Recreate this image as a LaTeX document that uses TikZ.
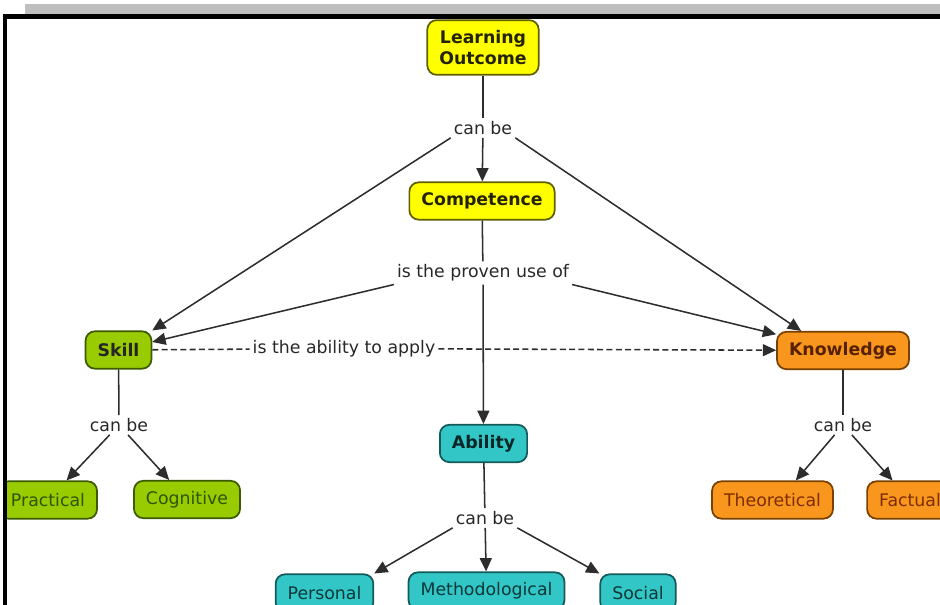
\documentclass[tikz,border=0pt]{standalone}
\usepackage{fontspec}
\setmainfont{DejaVu Sans}
\usetikzlibrary{arrows.meta}

\definecolor{cmGrey}{RGB}{190,190,190}
\definecolor{cmLine}{RGB}{45,45,45}
\definecolor{cmPhrase}{RGB}{40,40,40}
\definecolor{cmYellow}{RGB}{255,255,0}
\definecolor{cmYellowLine}{RGB}{95,95,0}
\definecolor{cmYellowText}{RGB}{35,35,0}
\definecolor{cmGreen}{RGB}{153,204,0}
\definecolor{cmGreenLine}{RGB}{60,90,0}
\definecolor{cmGreenText}{RGB}{45,85,0}
\definecolor{cmOrange}{RGB}{248,150,30}
\definecolor{cmOrangeLine}{RGB}{120,65,0}
\definecolor{cmOrangeText}{RGB}{125,45,0}
\definecolor{cmTeal}{RGB}{51,198,198}
\definecolor{cmTealLine}{RGB}{20,90,90}
\definecolor{cmTealText}{RGB}{10,55,55}

\tikzset{every picture/.style={line width=0.75pt}}
\tikzset{
  concept/.style={draw, rounded corners=7pt, line width=1.3pt, inner xsep=9pt, minimum height=28pt, font=\fontsize{13}{15.5}\selectfont},
  yellowbox/.style={concept, fill=cmYellow, draw=cmYellowLine, text=cmYellowText, font=\fontsize{13}{15.5}\selectfont\bfseries},
  greenbox/.style={concept, fill=cmGreen, draw=cmGreenLine, text=black!85, font=\fontsize{13}{15.5}\selectfont\bfseries},
  orangebox/.style={concept, fill=cmOrange, draw=cmOrangeLine, text=cmOrangeText!70!black, font=\fontsize{13}{15.5}\selectfont\bfseries},
  tealbox/.style={concept, fill=cmTeal, draw=cmTealLine, text=cmTealText!70!black, font=\fontsize{13}{15.5}\selectfont\bfseries},
  greenleaf/.style={concept, fill=cmGreen, draw=cmGreenLine, text=cmGreenText},
  orangeleaf/.style={concept, fill=cmOrange, draw=cmOrangeLine, text=cmOrangeText},
  tealleaf/.style={concept, fill=cmTeal, draw=cmTealLine, text=cmTealText},
  phrase/.style={inner sep=2pt, text=cmPhrase, font=\fontsize{13}{15.5}\selectfont},
  link/.style={draw=cmLine, line width=1.15pt},
  linkarrow/.style={link, -{Triangle[length=10pt,width=9pt]}},
  linkdash/.style={dash pattern=on 4.5pt off 2.5pt},
}

\begin{document}
\begin{tikzpicture}[x=0.75pt,y=0.75pt,yscale=-1,xscale=1]
\useasboundingbox (0,0) rectangle (940,605);

%Shape: Grey Bar
\fill [cmGrey] (25,4) rectangle (940,15);

% Concepts
\node [yellowbox, align=center, minimum height=41pt] (outcome) at (483,47.5) {Learning\\Outcome};
\node [yellowbox] (competence) at (482,201) {Competence};
\node [greenbox] (skill) at (118.5,350) {Skill};
\node [orangebox] (knowledge) at (843,350.5) {Knowledge};
\node [tealbox] (ability) at (483.5,443.5) {Ability};
\node [greenleaf] (practical) at (48,500) {Practical};
\node [greenleaf] (cognitive) at (187,499.5) {Cognitive};
\node [orangeleaf] (theoretical) at (772.5,500) {Theoretical};
\node [orangeleaf] (factual) at (910,500) {Factual};
\node [tealleaf] (personal) at (324.5,593) {Personal};
\node [tealleaf] (methodological) at (486.5,591) {Methodological};
\node [tealleaf] (social) at (638,593) {Social};

% Linking phrases
\node [phrase] (canbeTop) at (483,128) {can be};
\node [phrase] (proven) at (483,273) {is the proven use of};
\node [phrase] (apply) at (344,348.5) {is the ability to apply};
\node [phrase] (canbeSkill) at (119,425) {can be};
\node [phrase] (canbeKnow) at (843,425) {can be};
\node [phrase] (canbeAbility) at (485,518) {can be};

%Straight Lines
\draw [link] (outcome) -- (canbeTop);
\draw [linkarrow] (canbeTop) -- (competence);
\draw [linkarrow] (canbeTop.south west) -- (skill.north east);
\draw [linkarrow] (canbeTop.south east) -- (knowledge.155);
%Straight Lines
\draw [link] (competence) -- (proven);
\draw [linkarrow] (proven.south west) -- (skill);
\draw [linkarrow] (proven.south east) -- (knowledge);
\draw [linkarrow] (proven) -- (ability);
%Dashed Lines
\draw [link, linkdash] (skill) -- (apply);
\draw [linkarrow, linkdash] (apply) -- (knowledge);
%Straight Lines
\draw [link] (skill) -- (canbeSkill);
\draw [linkarrow] (canbeSkill) -- (practical);
\draw [linkarrow] (canbeSkill) -- (cognitive);
%Straight Lines
\draw [link] (knowledge) -- (canbeKnow);
\draw [linkarrow] (canbeKnow) -- (theoretical.40);
\draw [linkarrow] (canbeKnow) -- (factual);
%Straight Lines
\draw [link] (ability) -- (canbeAbility);
\draw [linkarrow] (canbeAbility.south west) -- (personal.north east);
\draw [linkarrow] (canbeAbility) -- (methodological);
\draw [linkarrow] (canbeAbility.south east) -- (social.north west);

%Shape: Frame
\fill [white] (0,17) rectangle (3,605);
\draw [line width=3.2pt] (4.8,605) -- (4.8,16.5) -- (940,16.5);

\end{tikzpicture}
\end{document}
